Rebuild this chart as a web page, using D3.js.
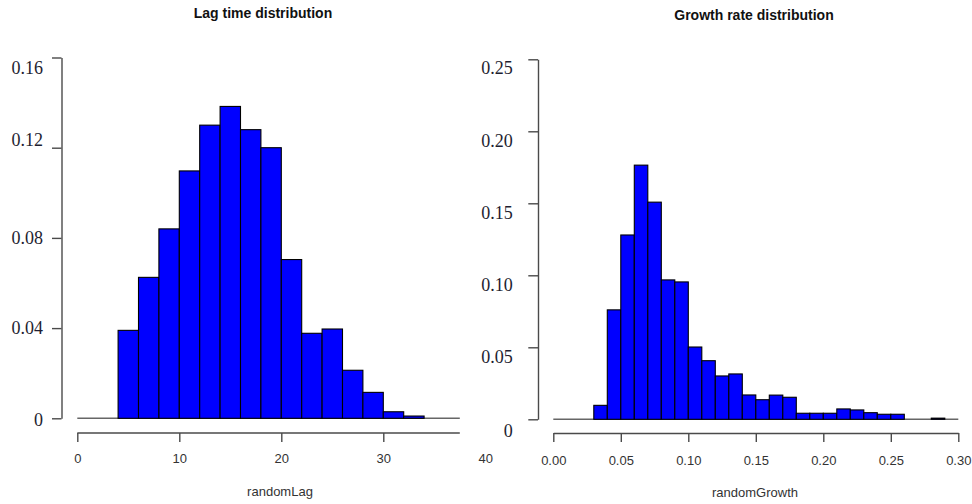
<!DOCTYPE html>
<html>
<head>
<meta charset="utf-8">
<script src="https://cdn.jsdelivr.net/npm/d3@7"></script>
<style>
html,body{margin:0;padding:0;background:#fff;}
svg{display:block;}
</style>
</head>
<body>
<svg id="chart" width="972" height="504"></svg>
<script>
// ---- Data ----
const lagBinStart = 4;
const lagBinWidth = 2;
const lagDensity = [0.039, 0.0625, 0.084, 0.1097, 0.130, 0.1383, 0.128, 0.120, 0.0704, 0.0377, 0.0396, 0.0213, 0.0115, 0.0029, 0.001];
const lagXTicks = [0, 10, 20, 30, 40];
const lagYTicks = [0, 0.04, 0.08, 0.12, 0.16];
const lagYLabels = ["0", "0.04", "0.08", "0.12", "0.16"];

const growthBinStart = 0.03;
const growthBinWidth = 0.01;
const growthDensity = [0.0097, 0.076, 0.128, 0.1765, 0.1508, 0.0968, 0.0954, 0.0502, 0.0407, 0.0301, 0.0315, 0.0169, 0.0136, 0.0168, 0.0153, 0.0042, 0.0042, 0.0042, 0.0072, 0.0065, 0.0046, 0.0035, 0.0035, 0, 0, 0.0008];
const growthXTicks = [0, 0.05, 0.10, 0.15, 0.20, 0.25, 0.30];
const growthXLabels = ["0.00", "0.05", "0.10", "0.15", "0.20", "0.25", "0.30"];
const growthYTicks = [0, 0.05, 0.10, 0.15, 0.20, 0.25];
const growthYLabels = ["0", "0.05", "0.10", "0.15", "0.20", "0.25"];

const titles = ["Lag time distribution", "Growth rate distribution"];
const xTitles = ["randomLag", "randomGrowth"];

// ---- Styles / layout ----
const barFill = "#0000ff";
const axisColor = "#4a4a4a";
const serif = "'Liberation Serif','Times New Roman',serif";
const sans = "'Liberation Sans',Arial,sans-serif";
const lagAxisEnd = 37.5;
// small per-label vertical shifts seen in the original picture
const lagYLabelShift = [1.5, 0, 0, -8, 10.5];
const growthYLabelShift = [11, 9, 9, 9, 9, 8];

const svg = d3.select("#chart");

const xL = d3.scaleLinear().domain([0, 40]).range([77.3, 485.3]);
const yL = d3.scaleLinear().domain([0, 0.16]).range([418.3, 57.5]);
const xR = d3.scaleLinear().domain([0, 0.30]).range([553.3, 958.3]);
const yR = d3.scaleLinear().domain([0, 0.25]).range([419.3, 59.3]);

function histogram(g, data, start, width, x, y) {
  const bins = data.map((d, i) => ({x0: start + i * width, x1: start + (i + 1) * width, v: d}))
                   .filter(b => b.v > 0);
  g.selectAll("rect.bar").data(bins).enter().append("rect")
    .attr("class", "bar")
    .attr("x", d => x(d.x0))
    .attr("width", d => x(d.x1) - x(d.x0))
    .attr("y", d => y(d.v))
    .attr("height", d => y(0) - y(d.v))
    .attr("fill", barFill)
    .attr("stroke", "#000")
    .attr("stroke-width", 1.1);
}

function styleAxis(sel) {
  sel.selectAll("line").attr("stroke", axisColor).attr("stroke-width", 1.4);
  sel.selectAll("path.domain").attr("stroke", axisColor).attr("stroke-width", 1.4);
}

// ---------- Left panel ----------
const gL = svg.append("g");
// baseline
gL.append("line")
  .attr("x1", xL(0)).attr("x2", xL(lagAxisEnd))
  .attr("y1", yL(0)).attr("y2", yL(0))
  .attr("stroke", "#666").attr("stroke-width", 1.4);
histogram(gL, lagDensity, lagBinStart, lagBinWidth, xL, yL);

// y axis
const yAxL = gL.append("g").attr("transform", "translate(61.5,0)")
  .call(d3.axisLeft(yL).tickValues(lagYTicks).tickFormat((d, i) => lagYLabels[i])
        .tickSize(9.5).tickSizeOuter(0).tickPadding(9));
styleAxis(yAxL);
yAxL.selectAll("text").attr("font-family", serif).attr("font-size", 18).attr("fill", "#1e1e30")
  .attr("transform", (d, i) => `translate(0,${lagYLabelShift[i]})`);

// x axis
const xAxL = gL.append("g").attr("transform", "translate(0,433)")
  .call(d3.axisBottom(xL).tickValues(lagXTicks).tickSize(9).tickSizeOuter(0).tickPadding(12));
xAxL.select("path.domain").remove();
xAxL.selectAll(".tick").filter(d => d > lagAxisEnd).select("line").remove();
xAxL.append("line").attr("x1", xL(0)).attr("x2", xL(lagAxisEnd)).attr("y1", 0).attr("y2", 0);
styleAxis(xAxL);
xAxL.selectAll("text").attr("font-family", sans).attr("font-size", 13).attr("fill", "#333");

gL.append("text").attr("x", 263).attr("y", 18).attr("text-anchor", "middle")
  .attr("font-family", sans).attr("font-weight", "bold").attr("font-size", 14).attr("fill", "#111")
  .text(titles[0]);
gL.append("text").attr("x", 280).attr("y", 496).attr("text-anchor", "middle")
  .attr("font-family", sans).attr("font-size", 13).attr("fill", "#333")
  .text(xTitles[0]);

// ---------- Right panel ----------
const gR = svg.append("g");
gR.append("line")
  .attr("x1", xR(0)).attr("x2", xR(0.30))
  .attr("y1", yR(0)).attr("y2", yR(0))
  .attr("stroke", "#666").attr("stroke-width", 1.4);
histogram(gR, growthDensity, growthBinStart, growthBinWidth, xR, yR);

const yAxR = gR.append("g").attr("transform", "translate(538,0)")
  .call(d3.axisLeft(yR).tickValues(growthYTicks).tickFormat((d, i) => growthYLabels[i])
        .tickSize(9.7).tickSizeOuter(0).tickPadding(15.5));
styleAxis(yAxR);
yAxR.selectAll("text").attr("font-family", serif).attr("font-size", 18).attr("fill", "#1e1e30")
  .attr("transform", (d, i) => `translate(0,${growthYLabelShift[i]})`);

const xAxR = gR.append("g").attr("transform", "translate(0,433)")
  .call(d3.axisBottom(xR).tickValues(growthXTicks).tickFormat((d, i) => growthXLabels[i])
        .tickSize(9).tickSizeOuter(0).tickPadding(14));
styleAxis(xAxR);
xAxR.selectAll("text").attr("font-family", sans).attr("font-size", 13).attr("fill", "#333");

gR.append("text").attr("x", 754).attr("y", 20).attr("text-anchor", "middle")
  .attr("font-family", sans).attr("font-weight", "bold").attr("font-size", 14).attr("fill", "#111")
  .text(titles[1]);
gR.append("text").attr("x", 755).attr("y", 497).attr("text-anchor", "middle")
  .attr("font-family", sans).attr("font-size", 13).attr("fill", "#333")
  .text(xTitles[1]);
</script>
</body>
</html>
